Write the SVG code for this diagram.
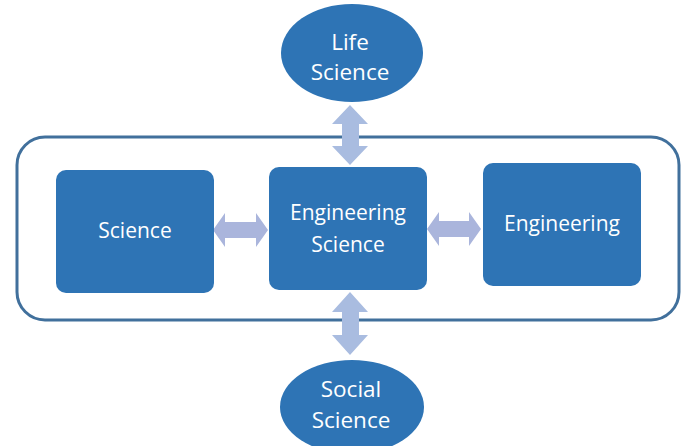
<svg xmlns="http://www.w3.org/2000/svg" width="691" height="446" viewBox="0 0 691 446">
<style>
.node{fill:#2E74B5;}
.lbl{fill:#FFFFFF;font-family:"Open Sans","Liberation Sans",sans-serif;font-size:21px;text-anchor:middle;}
.big{font-size:22.5px;}
.arr{fill:#A9BCE0;}
.arrh{fill:#AAB5DC;}
</style>
<rect width="691" height="446" fill="#FFFFFF"/>
<g id="container">
<rect x="17" y="137" width="662" height="183" rx="28" ry="28" fill="none" stroke="#41709C" stroke-width="3"/>
</g>
<g id="connectors">
<polygon class="arr" points="350,105 368,124 359,124 359,146 368,146 350,165 332,146 342,146 342,124 332,124"/>
<polygon class="arr" points="350,292 368,312 359,312 359,335 368,335 350,355 332,335 342,335 342,312 332,312"/>
<polygon class="arrh" points="213,230 225,213 225,222 256,222 256,213 268,230 256,247 256,238 225,238 225,247"/>
<polygon class="arrh" points="427,229 439,212 439,221 469,221 469,212 481,229 469,246 469,237 439,237 439,246"/>
</g>
<g id="life-science">
<ellipse class="node" cx="352" cy="53" rx="71" ry="49"/>
<text class="lbl big" x="350" y="50">Life</text>
<text class="lbl big" x="350" y="80">Science</text>
</g>
<g id="science">
<rect class="node" x="56" y="170" width="158" height="123" rx="10" ry="10"/>
<text class="lbl" x="135" y="238">Science</text>
</g>
<g id="engineering-science">
<rect class="node" x="269" y="167" width="158" height="123" rx="10" ry="10"/>
<text class="lbl" x="348" y="220">Engineering</text>
<text class="lbl" x="348" y="252">Science</text>
</g>
<g id="engineering">
<rect class="node" x="483" y="163" width="158" height="123" rx="10" ry="10"/>
<text class="lbl" x="562" y="231">Engineering</text>
</g>
<g id="social-science">
<ellipse class="node" cx="352" cy="407" rx="72" ry="47"/>
<text class="lbl big" x="351" y="397">Social</text>
<text class="lbl big" x="351" y="428">Science</text>
</g>
</svg>
